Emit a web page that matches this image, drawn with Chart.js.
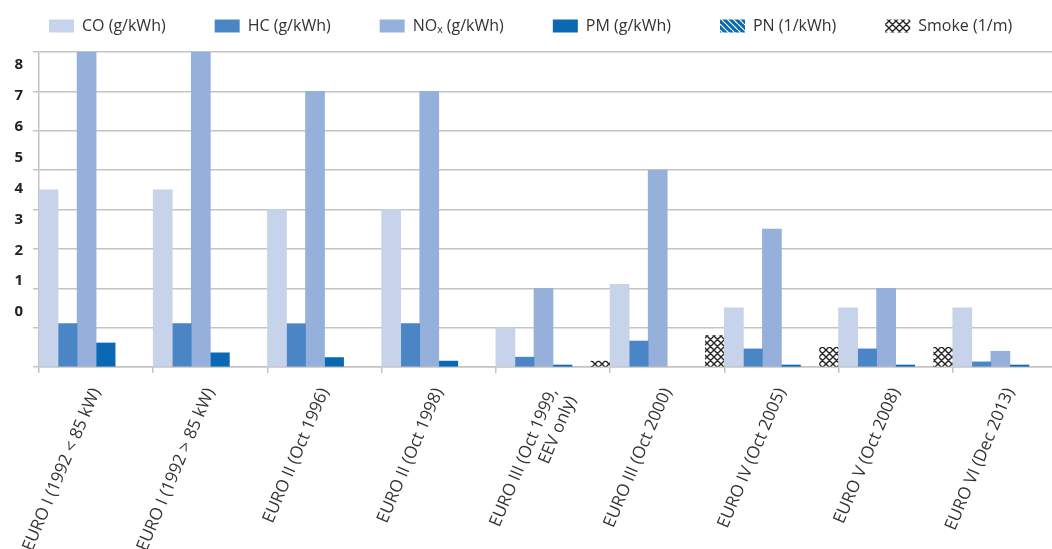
<!DOCTYPE html>
<html>
<head>
<meta charset="utf-8">
<script src="https://cdn.jsdelivr.net/npm/chart.js@4"></script>
<style>
  html, body { margin: 0; padding: 0; overflow: hidden; background: #fff; }
  #wrap { width: 1067px; height: 580px; }
</style>
</head>
<body>
<div id="wrap"><canvas id="emissionChart" width="1067" height="580"></canvas></div>
<script>
const stages = [
  "EURO I (1992 < 85 kW)",
  "EURO I (1992 > 85 kW)",
  "EURO II (Oct 1996)",
  "EURO II (Oct 1998)",
  ["EURO III (Oct 1999,", "EEV only)"],
  "EURO III (Oct 2000)",
  "EURO IV (Oct 2005)",
  "EURO V (Oct 2008)",
  "EURO VI (Dec 2013)"
];
const coValues = [4.5, 4.5, 4.0, 4.0, 1.0, 2.1, 1.5, 1.5, 1.5];
const hcValues = [1.1, 1.1, 1.1, 1.1, 0.25, 0.66, 0.46, 0.46, 0.13];
const noxValues = [8, 8, 7, 7, 2, 5, 3.5, 2, 0.4];
const pmValues = [0.61, 0.36, 0.24, 0.15, 0.05, null, 0.05, 0.05, 0.05];
const pnValues = [null, null, null, null, null, null, null, null, null];
const smokeValues = [null, null, null, null, 0.15, 0.8, 0.5, 0.5, null];
const yTickLabels = [0, 1, 2, 3, 4, 5, 6, 7, 8];

const gridGrey = "#c4c4c4";
const font = "'Open Sans', 'Noto Sans', 'DejaVu Sans', sans-serif";

// pattern fills for PN and smoke
function makePattern(size, draw) {
  const c = document.createElement("canvas");
  c.width = c.height = size;
  const g = c.getContext("2d");
  draw(g, size);
  return g.createPattern(c, "repeat");
}
const pnFill = makePattern(6, (g, s) => {
  g.fillStyle = "#0a68b4";
  g.fillRect(0, 0, s, s);
  g.strokeStyle = "#fff";
  g.lineWidth = 1.2;
  g.beginPath();
  for (const k of [-s, 0, s]) { g.moveTo(k, 0); g.lineTo(k + s, s); }
  g.stroke();
});
const smokeFill = makePattern(7, (g, s) => {
  g.fillStyle = "#fff";
  g.fillRect(0, 0, s, s);
  g.strokeStyle = "#262626";
  g.lineWidth = 1.4;
  g.beginPath();
  for (const k of [-s, 0, s]) {
    g.moveTo(k, 0); g.lineTo(k + s, s);
    g.moveTo(k + s, 0); g.lineTo(k, s);
  }
  g.stroke();
});

const ctx = document.getElementById("emissionChart").getContext("2d");
new Chart(ctx, {
  type: "bar",
  data: {
    labels: stages,
    datasets: [
      { label: "CO (g/kWh)", data: coValues, backgroundColor: "#c7d3ea" },
      { label: "HC (g/kWh)", data: hcValues, backgroundColor: "#4a86c6" },
      { label: "NOₓ (g/kWh)", data: noxValues, backgroundColor: "#95b1db" },
      { label: "PM (g/kWh)", data: pmValues, backgroundColor: "#0a68b4" },
      { label: "PN (1/kWh)", data: pnValues, backgroundColor: pnFill },
      { label: "Smoke (1/m)", data: smokeValues, backgroundColor: smokeFill }
    ]
  },
  options: {
    responsive: false,
    animation: false,
    devicePixelRatio: 1,
    layout: { padding: { top: -31, left: 0, right: 0, bottom: 0 } },
    datasets: { bar: { barPercentage: 1, categoryPercentage: 1, borderWidth: 0 } },
    plugins: {
      tooltip: { enabled: false },
      legend: {
        position: "top",
        align: "start",
        labels: {
          font: { family: font, size: 16 },
          color: "#333",
          boxWidth: 25,
          boxHeight: 13,
          padding: 49
        }
      }
    },
    scales: {
      x: {
        type: "category",
        offset: true,
        grid: { offset: true, drawOnChartArea: false, color: gridGrey, lineWidth: 1.5, tickLength: 6 },
        border: { color: gridGrey, width: 1.5 },
        ticks: {
          font: { family: font, size: 17 },
          color: "#333",
          minRotation: 67,
          maxRotation: 67,
          autoSkip: false,
          padding: 12
        },
        afterFit: s => { s.height = 213; }
      },
      xTop: {
        type: "category",
        position: "top",
        grid: { display: false },
        border: { display: false },
        ticks: { display: false },
        afterFit: s => { s.height = 8; }
      },
      y: {
        position: "left",
        weight: 0,
        min: 0,
        max: 8,
        ticks: { stepSize: 1, display: false },
        grid: { color: gridGrey, lineWidth: 1.5, tickLength: 6 },
        border: { color: gridGrey, width: 1.5 }
      },
      y2: {
        position: "left",
        weight: 1,
        min: -1.781,
        max: 8.422,
        grid: { display: false, drawTicks: false },
        border: { display: false },
        ticks: {
          font: { family: font, size: 15, weight: "bold" },
          color: "#222",
          padding: 10
        },
        afterBuildTicks: s => { s.ticks = yTickLabels.map(v => ({ value: v })); },
        afterFit: s => { s.width = 33; }
      }
    }
  }
});
</script>
</body>
</html>
